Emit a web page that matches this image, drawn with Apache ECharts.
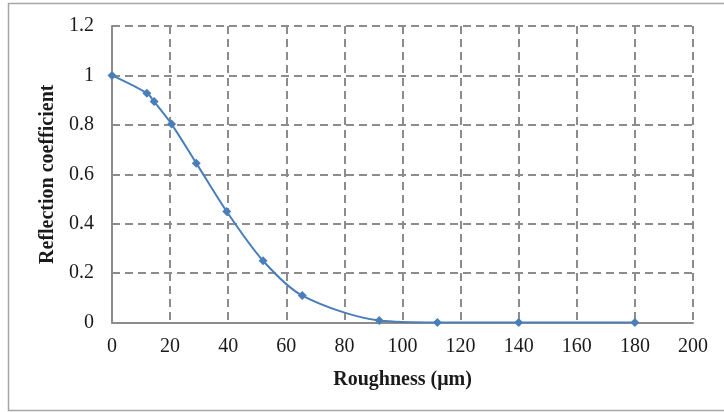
<!DOCTYPE html>
<html>
<head>
<meta charset="utf-8">
<script src="https://cdn.jsdelivr.net/npm/echarts@6/dist/echarts.min.js"></script>
<style>html,body{margin:0;padding:0;background:#fff;}#c{width:724px;height:412px;}</style>
</head>
<body>
<div id="c"></div>
<script>
var roughness = [0, 12, 14.5, 20.5, 29, 39.5, 52, 65.5, 92, 112, 140, 180];
var reflection = [1.0, 0.928, 0.894, 0.803, 0.645, 0.449, 0.25, 0.109, 0.008, 0.0, 0.0, 0.0];
var xTicks = [0, 20, 40, 60, 80, 100, 120, 140, 160, 180, 200];
var yTicks = [0, 0.2, 0.4, 0.6, 0.8, 1, 1.2];

var chart = echarts.init(document.getElementById('c'));
var font = '"Liberation Serif", "Times New Roman", serif';
var pts = roughness.map(function (x, i) { return [x, reflection[i]]; });
chart.setOption({
  animation: false,
  graphic: [{
    type: 'rect', shape: { x: 8.5, y: 3.5, width: 730, height: 407 },
    style: { fill: 'none', stroke: '#a6a6a6', lineWidth: 1.5 }, silent: true
  }],
  grid: { left: 112, right: 31, top: 26, bottom: 89.5 },
  xAxis: {
    type: 'value', min: xTicks[0], max: xTicks[xTicks.length - 1], interval: 20,
    name: 'Roughness (μm)', nameLocation: 'middle', nameGap: 47,
    nameTextStyle: { fontFamily: font, fontSize: 20, fontWeight: 'bold', color: '#1a1a1a' },
    axisLine: { show: true, lineStyle: { color: '#8c8c8c', width: 2 } },
    axisTick: { show: false },
    axisLabel: { fontFamily: font, fontSize: 20, color: '#1a1a1a', margin: 14 },
    splitLine: { show: true, lineStyle: { color: '#8c8c8c', type: [8, 5], width: 2 } }
  },
  yAxis: {
    type: 'value', min: yTicks[0], max: yTicks[yTicks.length - 1], interval: 0.2,
    name: 'Reflection coefficient', nameLocation: 'middle', nameGap: 54,
    nameTextStyle: { fontFamily: font, fontSize: 20, fontWeight: 'bold', color: '#1a1a1a' },
    axisLine: { show: true, lineStyle: { color: '#8c8c8c', width: 2 } },
    axisTick: { show: false },
    axisLabel: { fontFamily: font, fontSize: 20, color: '#1a1a1a', margin: 18,
      formatter: function (v) { return String(Math.round(v * 10) / 10); } },
    splitLine: { show: true, lineStyle: { color: '#8c8c8c', type: [8, 5], width: 2 } }
  },
  series: [{
    type: 'line', data: pts, smooth: 0.3,
    symbol: 'diamond', symbolSize: 9,
    lineStyle: { color: '#4a7ebb', width: 2 },
    itemStyle: { color: '#4a7ebb' }
  }]
});
</script>
</body>
</html>
